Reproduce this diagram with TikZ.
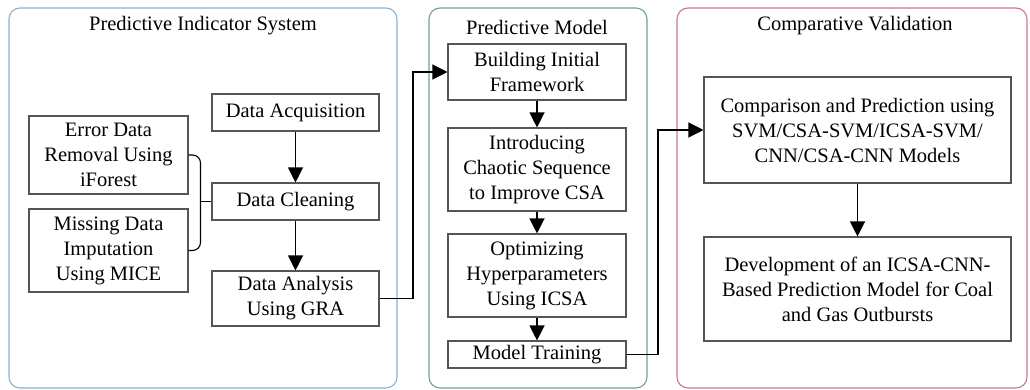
\documentclass[tikz,border=0pt]{standalone}
\usepackage{fontspec}
\setmainfont{Liberation Serif}
\usetikzlibrary{arrows.meta,positioning,calc}
\definecolor{indicatorblue}{RGB}{135,180,205}
\definecolor{modelgreen}{RGB}{115,165,135}
\definecolor{validred}{RGB}{205,120,130}
\definecolor{boxgray}{RGB}{85,85,85}

\begin{document}
\begin{tikzpicture}[
    x=1pt, y=-1pt,
    font=\fontsize{20.5}{25}\selectfont,
    panel/.style={rectangle, draw, rounded corners=11pt, line width=1.1pt, minimum height=380pt, inner sep=0pt},
    title/.style={inner sep=0pt},
    stepbox/.style={rectangle, draw=boxgray, line width=1.1pt, align=center, inner sep=0pt},
    arrow/.style={-{Triangle[width=15pt,length=15pt]}, line width=1.2pt}
]
    \useasboundingbox (0,0) rectangle (1030,390);

    % panels
    \node[panel, draw=indicatorblue, minimum width=388pt] (pis) at (203,198) {};
    \node[panel, draw=modelgreen, minimum width=218pt] (pm) at (538,198) {};
    \node[panel, draw=validred, minimum width=350pt] (cv) at (852,198) {};
    \node[title] (pistitle) at (203,26) {Predictive Indicator System};
    \node[title] (pmtitle) at (537,27) {Predictive Model};
    \node[title] (cvtitle) at (855,26) {Comparative Validation};

    % indicator system
    \node[stepbox, minimum width=167pt, minimum height=37pt] (acq) at (295.5,112.5) {Data Acquisition};
    \node[stepbox, minimum width=167pt, minimum height=37pt] (clean) at (295.5,201.5) {Data Cleaning};
    \node[stepbox, minimum width=167pt, minimum height=55pt] (gra) at (295.5,298.5) {Data Analysis\\Using GRA};
    \node[stepbox, minimum width=159pt, minimum height=78pt] (err) at (108.5,155) {Error Data\\Removal Using\\iForest};
    \node[stepbox, minimum width=159pt, minimum height=83pt] (mis) at (108.5,250.5) {Missing Data\\Imputation\\Using MICE};

    \coordinate (brk) at (200.5,201.5);
    \draw[line width=1.1pt, rounded corners=8pt] (err.east) -| (brk) |- (mis.east);
    \draw[line width=1.1pt] (brk) -- (clean.west);
    \draw[arrow] (acq) -- (clean);
    \draw[arrow] (clean) -- (gra);

    % predictive model
    \node[stepbox, minimum width=178pt, minimum height=56pt] (frame) at (537,72) {Building Initial\\Framework};
    \node[stepbox, minimum width=178pt, minimum height=83pt] (chaos) at (537,169.5) {Introducing\\Chaotic Sequence\\to Improve CSA};
    \node[stepbox, minimum width=178pt, minimum height=83pt] (hyper) at (537,275.5) {Optimizing\\Hyperparameters\\Using ICSA};
    \node[stepbox, minimum width=178pt, minimum height=27pt] (train) at (537,354.5) {Model Training};

    \draw[arrow] (frame) -- (chaos);
    \draw[arrow] (chaos) -- (hyper);
    \draw[arrow] (hyper) -- (train);
    \draw[arrow] (gra.east) -- (413,298.5) |- (frame.west);

    % validation
    \node[stepbox, minimum width=307pt, minimum height=106pt] (compare) at (857.5,130) {Comparison and Prediction using\\SVM/CSA-SVM/ICSA-SVM/\\CNN/CSA-CNN Models};
    \node[stepbox, minimum width=307pt, minimum height=104pt] (develop) at (857.5,289) {Development of an ICSA-CNN-\\Based Prediction Model for Coal\\and Gas Outbursts};

    \draw[arrow] (compare) -- (develop);
    \draw[arrow] (train.east) -- (658,354.5) |- (compare.west);
\end{tikzpicture}
\end{document}
